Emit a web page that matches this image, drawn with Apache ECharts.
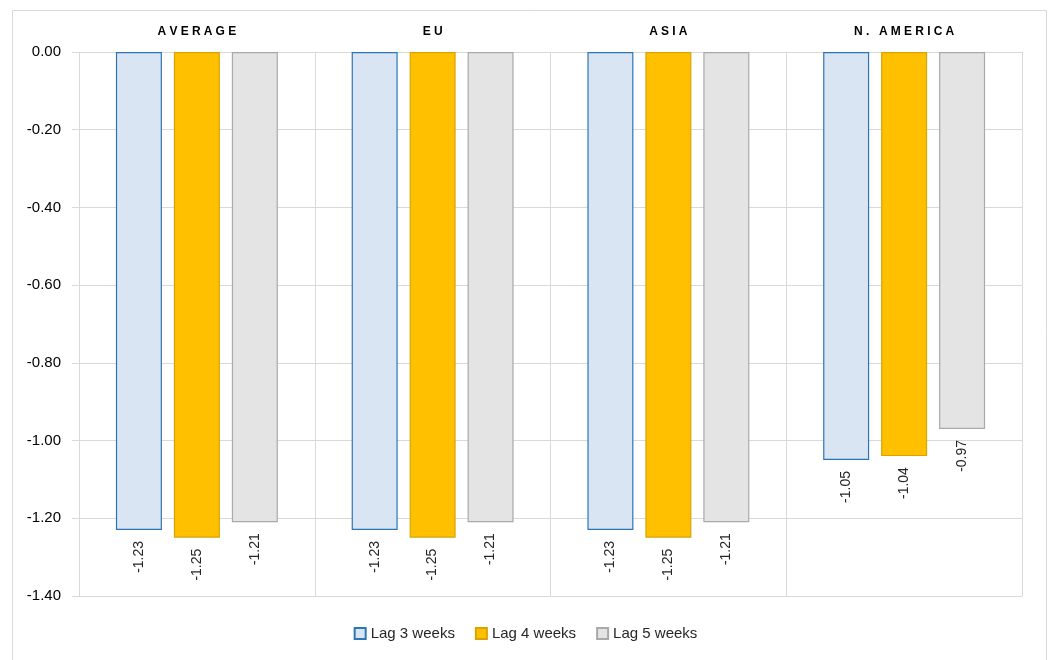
<!DOCTYPE html>
<html>
<head>
<meta charset="utf-8">
<script src="https://cdn.jsdelivr.net/npm/echarts@6/dist/echarts.min.js"></script>
<style>html,body{margin:0;padding:0;background:#fff}#c{width:1051px;height:660px}</style>
</head>
<body>
<div id="c"></div>
<script>
const categories = ['AVERAGE', 'EU', 'ASIA', 'N. AMERICA'];
const seriesNames = ['Lag 3 weeks', 'Lag 4 weeks', 'Lag 5 weeks'];
const lag3 = [-1.23, -1.23, -1.23, -1.05];
const lag4 = [-1.25, -1.25, -1.25, -1.04];
const lag5 = [-1.21, -1.21, -1.21, -0.97];
const yTicks = [0, -0.2, -0.4, -0.6, -0.8, -1.0, -1.2, -1.4];

const fills = ['#DAE5F3', '#FFC000', '#E4E4E4'];
const borders = ['#2E75B6', '#D9A300', '#A9A9A9'];
const font = 'Liberation Sans, Arial, sans-serif';

const chart = echarts.init(document.getElementById('c'));
const mk = (name, data, i) => ({
  name, type: 'bar', data,
  barWidth: 46, barGap: '26%',
  itemStyle: { color: fills[i], borderColor: borders[i], borderWidth: 1.2 },
  label: {
    show: true, position: 'bottom', rotate: 90, align: 'right', verticalAlign: 'middle',
    distance: 11, fontFamily: font, fontSize: 14, color: '#262626',
    formatter: p => p.value.toFixed(2)
  }
});
chart.setOption({
  animation: false,
  graphic: [{ type: 'rect', shape: { x: 12.5, y: 10.5, width: 1034, height: 660 }, style: { fill: 'none', stroke: '#d9d9d9', lineWidth: 1 }, silent: true }],
  grid: { left: 79, right: 29, top: 52, bottom: 64 },
  legend: {
    bottom: 14, left: 'center', itemWidth: 11, itemHeight: 11, itemGap: 20, icon: 'rect',
    textStyle: { fontFamily: font, fontSize: 15, color: '#262626' },
    data: seriesNames
  },
  xAxis: {
    type: 'category', position: 'top', data: categories,
    axisLine: { show: false }, axisTick: { show: false, interval: 0 },
    splitLine: { show: true, interval: 0, lineStyle: { color: '#d9d9d9', width: 1 } },
    axisLabel: {
      interval: 0, margin: 14, color: '#000',
      formatter: v => v.split('').map(c => '{s|' + c + '}').join(''),
      rich: { s: { fontFamily: font, fontSize: 12, fontWeight: 'bold', color: '#000', padding: [0, 1.6] } }
    }
  },
  yAxis: {
    type: 'value', min: -1.4, max: 0, interval: 0.2,
    axisLine: { show: false },
    axisTick: { show: true, length: 7, lineStyle: { color: '#d9d9d9' } },
    splitLine: { show: true, lineStyle: { color: '#d9d9d9', width: 1 } },
    axisLabel: { margin: 18, fontFamily: font, fontSize: 15, color: '#000',
      formatter: v => { const t = yTicks.find(x => Math.abs(x - v) < 1e-6); return (t === undefined ? v : t).toFixed(2); } }
  },
  series: [mk(seriesNames[0], lag3, 0), mk(seriesNames[1], lag4, 1), mk(seriesNames[2], lag5, 2)]
});
</script>
</body>
</html>
